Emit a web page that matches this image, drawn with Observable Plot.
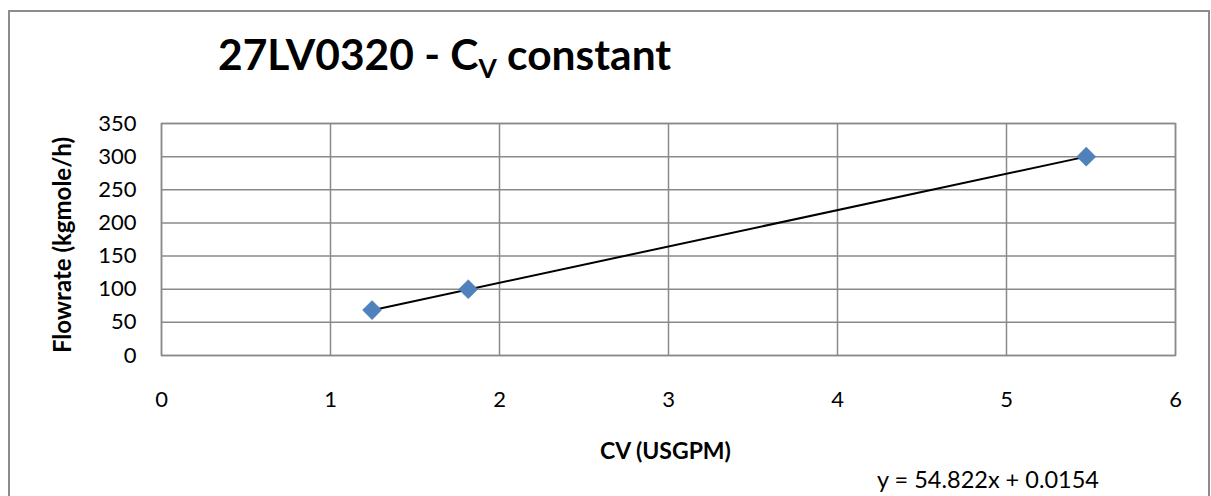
<!DOCTYPE html>
<html>
<head>
<meta charset="utf-8">
<script src="https://cdn.jsdelivr.net/npm/d3@7"></script>
<script src="https://cdn.jsdelivr.net/npm/@observablehq/plot@0.6"></script>
<style>
  html, body { margin: 0; padding: 0; background: #fff; }
  #wrap { position: relative; width: 1211px; height: 496px; overflow: hidden; font-family: Lato, "Open Sans", sans-serif; color: #000; }
  #border { position: absolute; left: 8px; top: 10px; width: 1202px; height: 520px; border: 2px solid #8c8c8c; box-sizing: border-box; }
  #chart { position: absolute; left: 0; top: 0; }
  .t { position: absolute; white-space: nowrap; line-height: 1; }
</style>
</head>
<body>
<div id="wrap">
  <div id="border"></div>
  <div id="chart"></div>
  <div class="t" id="title" style="left:218px; top:33px; font-size:42.5px; font-weight:700;">27LV0320 - C<sub style="font-size:0.62em; vertical-align:-0.3em;">V</sub> constant</div>
  <div class="t" id="xlab" style="left:600px; top:439px; font-size:23px; font-weight:700;">CV (USGPM)</div>
  <div class="t" id="ylab" style="left:62px; top:245px; font-size:24px; font-weight:700; transform: translate(-50%,-50%) rotate(-90deg); transform-origin: center;">Flowrate (kgmole/h)</div>
  <div class="t" id="eq" style="left:877px; top:468px; font-size:23.5px;"></div>
</div>
<script>
// Data
const cv = [1.246, 1.815, 5.472];
const flowrate = [68.5, 100, 300];
const xTicks = [0, 1, 2, 3, 4, 5, 6];
const yTicks = [0, 50, 100, 150, 200, 250, 300, 350];
const slope = 54.822;
const intercept = 0.0154;

const points = cv.map((x, i) => ({x, y: flowrate[i]}));
const ext = d3.extent(cv);
const trend = ext.map(x => ({x, y: slope * x + intercept}));

document.getElementById("eq").textContent = `y = ${slope}x + ${intercept}`;

const grid = "#8a8a8a";
const plot = Plot.plot({
  width: 1211,
  height: 496,
  marginLeft: 161,
  marginRight: 36,
  marginTop: 123,
  marginBottom: 141,
  style: { fontSize: "22px", fontFamily: "Lato, 'Open Sans', sans-serif", color: "#000", background: "transparent", overflow: "visible" },
  x: { domain: [0, 6], ticks: xTicks, label: null },
  y: { domain: [0, 350], ticks: yTicks, label: null },
  marks: [
    Plot.gridX(xTicks, { stroke: grid, strokeOpacity: 1, strokeWidth: 1.5 }),
    Plot.gridY(yTicks, { stroke: grid, strokeOpacity: 1, strokeWidth: 1.5 }),
    Plot.frame({ stroke: grid, strokeWidth: 1.5 }),
    Plot.axisX(xTicks, { tickSize: 0, tickPadding: 36, fill: "#000", label: null, fontSize: 22, tickFormat: d3.format("d") }),
    Plot.axisY(yTicks, { tickSize: 0, tickPadding: 25, fill: "#000", label: null, fontSize: 22, tickFormat: d3.format("d") }),
    Plot.line(trend, { x: "x", y: "y", stroke: "#000", strokeWidth: 2 }),
    Plot.dot(points, { x: "x", y: "y", symbol: "diamond2", r: 8.6, fill: "#4f81bd", stroke: "#4a7ab5", strokeWidth: 0.5 })
  ]
});
document.getElementById("chart").appendChild(plot);
</script>
</body>
</html>
